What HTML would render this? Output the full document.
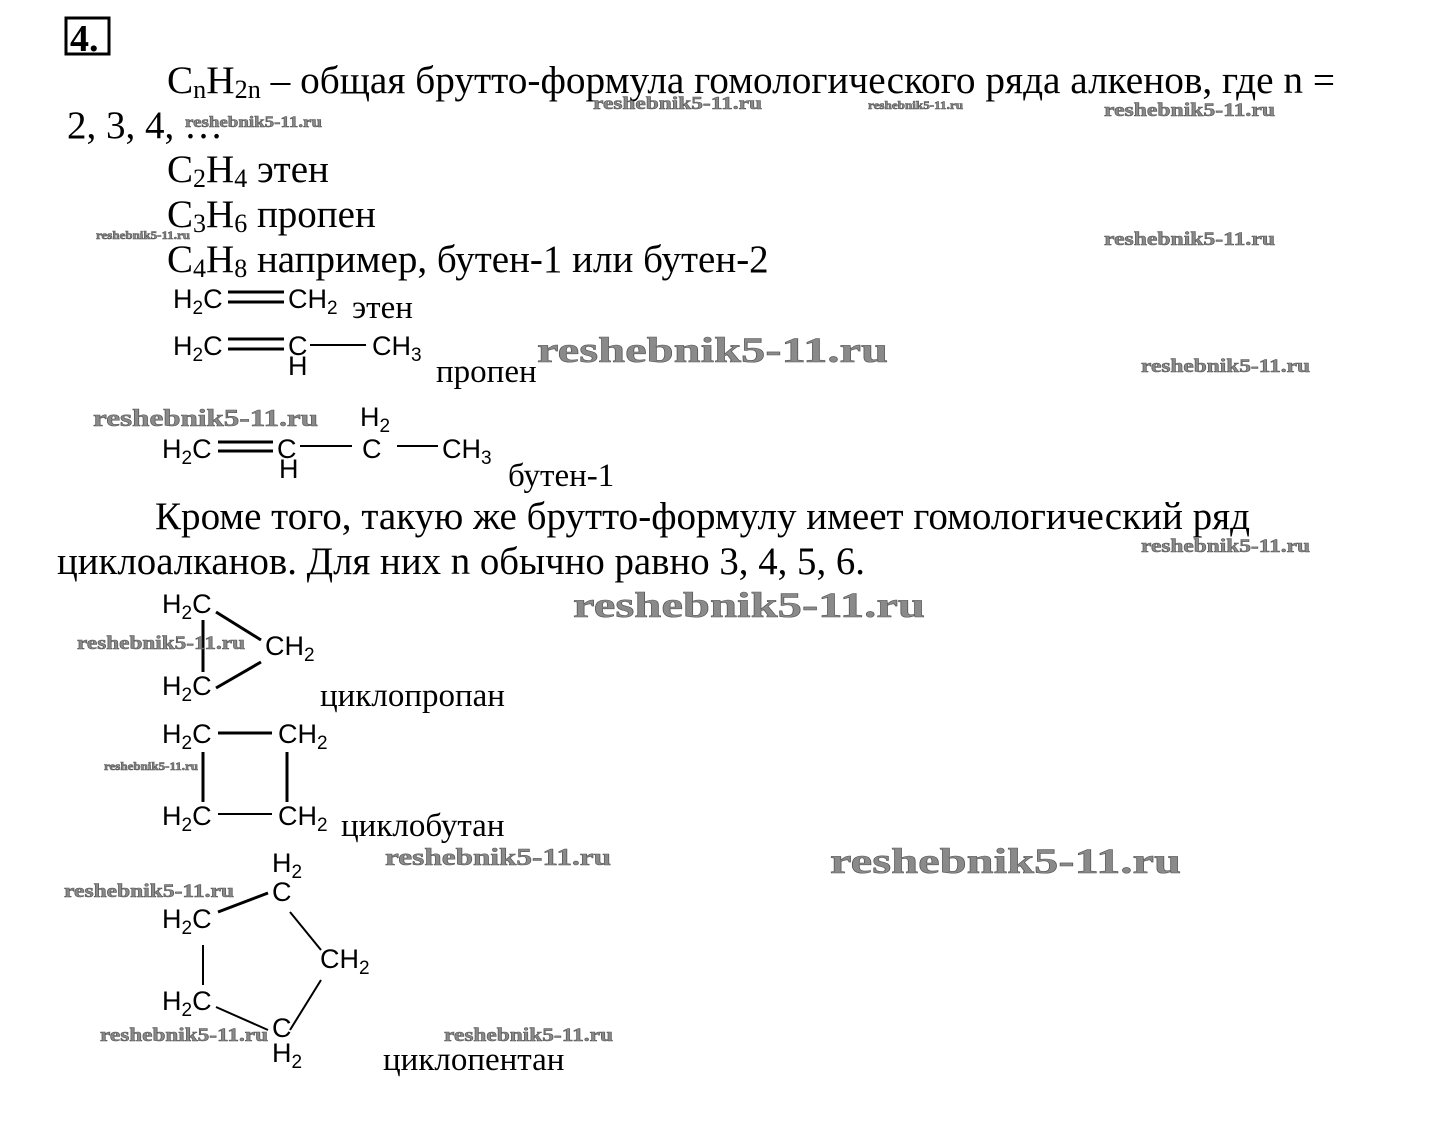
<!DOCTYPE html>
<html><head><meta charset="utf-8"><style>
html,body{margin:0;padding:0;background:#fff;}
svg{display:block}
.s{font-family:"Liberation Serif",serif;font-size:39px;fill:#000}
.l{font-family:"Liberation Serif",serif;font-size:33px;fill:#000}
.c{font-family:"Liberation Sans",sans-serif;font-size:27px;fill:#000}
.w{font-family:"Liberation Serif",serif;font-weight:bold;fill:#8a8a8a;stroke:#555;stroke-width:0.6}
line{stroke:#000;stroke-width:3}
</style></head><body>
<svg width="1437" height="1134" viewBox="0 0 1437 1134" xmlns="http://www.w3.org/2000/svg">
<rect x="66" y="18" width="43" height="36" fill="none" stroke="#000" stroke-width="3"/>
<text x="70" y="51" font-family="Liberation Serif,serif" font-weight="bold" font-size="38">4.</text>

<text class="s" x="167" y="93" textLength="1168" lengthAdjust="spacingAndGlyphs">C<tspan font-size="26" dy="5">n</tspan><tspan dy="-5">H</tspan><tspan font-size="26" dy="5">2n</tspan><tspan dy="-5"> – общая брутто-формула гомологического ряда алкенов, где n =</tspan></text>
<text class="s" x="67" y="138">2, 3, 4, …</text>
<text class="s" x="167" y="182">C<tspan font-size="26" dy="5">2</tspan><tspan dy="-5">H</tspan><tspan font-size="26" dy="5">4</tspan><tspan dy="-5"> этен</tspan></text>
<text class="s" x="167" y="227">C<tspan font-size="26" dy="5">3</tspan><tspan dy="-5">H</tspan><tspan font-size="26" dy="5">6</tspan><tspan dy="-5"> пропен</tspan></text>
<text class="s" x="167" y="272">C<tspan font-size="26" dy="5">4</tspan><tspan dy="-5">H</tspan><tspan font-size="26" dy="5">8</tspan><tspan dy="-5"> например, бутен-1 или бутен-2</tspan></text>

<!-- ethene -->
<text class="c" x="173" y="308">H<tspan font-size="19" dy="6">2</tspan><tspan dy="-6">C</tspan></text>
<line x1="228" y1="292" x2="284" y2="292"/><line x1="228" y1="302" x2="284" y2="302"/>
<text class="c" x="288" y="308">CH<tspan font-size="19" dy="6">2</tspan></text>
<text class="l" x="352" y="318">этен</text>

<!-- propene -->
<text class="c" x="173" y="355">H<tspan font-size="19" dy="6">2</tspan><tspan dy="-6">C</tspan></text>
<line x1="228" y1="339" x2="284" y2="339"/><line x1="228" y1="349" x2="284" y2="349"/>
<text class="c" x="288" y="355">C</text>
<text class="c" x="288" y="375">H</text>
<line x1="310" y1="345" x2="366" y2="345" style="stroke-width:2"/>
<text class="c" x="372" y="355">CH<tspan font-size="19" dy="6">3</tspan></text>
<text class="l" x="436" y="382">пропен</text>

<!-- butene -->
<text class="c" x="162" y="458">H<tspan font-size="19" dy="6">2</tspan><tspan dy="-6">C</tspan></text>
<line x1="218" y1="442" x2="273" y2="442"/><line x1="218" y1="451" x2="273" y2="451"/>
<text class="c" x="277" y="458">C</text>
<text class="c" x="279" y="478">H</text>
<line x1="300" y1="446" x2="352" y2="446" style="stroke-width:2"/>
<text class="c" x="362" y="458">C</text>
<text class="c" x="360" y="426">H<tspan font-size="19" dy="6">2</tspan></text>
<line x1="397" y1="446" x2="438" y2="446" style="stroke-width:2"/>
<text class="c" x="442" y="458">CH<tspan font-size="19" dy="6">3</tspan></text>
<text class="l" x="508" y="486">бутен-1</text>

<text class="s" x="155" y="529" textLength="1095" lengthAdjust="spacingAndGlyphs">Кроме того, такую же брутто-формулу имеет гомологический ряд</text>
<text class="s" x="57" y="574" textLength="808" lengthAdjust="spacingAndGlyphs">циклоалканов. Для них n обычно равно 3, 4, 5, 6.</text>

<!-- cyclopropane -->
<text class="c" x="162" y="613">H<tspan font-size="19" dy="6">2</tspan><tspan dy="-6">C</tspan></text>
<text class="c" x="265" y="655">CH<tspan font-size="19" dy="6">2</tspan></text>
<text class="c" x="162" y="695">H<tspan font-size="19" dy="6">2</tspan><tspan dy="-6">C</tspan></text>
<line x1="203" y1="620" x2="203" y2="672"/>
<line x1="216" y1="612" x2="261" y2="640"/>
<line x1="261" y1="662" x2="216" y2="688"/>
<text class="l" x="320" y="706">циклопропан</text>

<!-- cyclobutane -->
<text class="c" x="162" y="743">H<tspan font-size="19" dy="6">2</tspan><tspan dy="-6">C</tspan></text>
<text class="c" x="278" y="743">CH<tspan font-size="19" dy="6">2</tspan></text>
<line x1="218" y1="733" x2="272" y2="733"/>
<line x1="203" y1="752" x2="203" y2="802"/>
<line x1="287" y1="752" x2="287" y2="802"/>
<text class="c" x="162" y="825">H<tspan font-size="19" dy="6">2</tspan><tspan dy="-6">C</tspan></text>
<text class="c" x="278" y="825">CH<tspan font-size="19" dy="6">2</tspan></text>
<line x1="218" y1="814" x2="272" y2="814" style="stroke-width:2"/>
<text class="l" x="341" y="836">циклобутан</text>

<!-- cyclopentane -->
<text class="c" x="272" y="872">H<tspan font-size="19" dy="6">2</tspan></text>
<text class="c" x="272" y="901">C</text>
<text class="c" x="162" y="928">H<tspan font-size="19" dy="6">2</tspan><tspan dy="-6">C</tspan></text>
<line x1="218" y1="912" x2="268" y2="893"/>
<line x1="290" y1="912" x2="321" y2="950" style="stroke-width:2"/>
<text class="c" x="320" y="968">CH<tspan font-size="19" dy="6">2</tspan></text>
<line x1="321" y1="980" x2="290" y2="1030" style="stroke-width:2"/>
<line x1="203" y1="945" x2="203" y2="985" style="stroke-width:2"/>
<text class="c" x="162" y="1010">H<tspan font-size="19" dy="6">2</tspan><tspan dy="-6">C</tspan></text>
<line x1="216" y1="1007" x2="268" y2="1030" style="stroke-width:2"/>
<text class="c" x="272" y="1037">C</text>
<text class="c" x="272" y="1062">H<tspan font-size="19" dy="6">2</tspan></text>
<text class="l" x="383" y="1070">циклопентан</text>

<!-- watermarks -->
<text class="w" x="537" y="362" font-size="36" textLength="351" lengthAdjust="spacingAndGlyphs">reshebnik5-11.ru</text>
<text class="w" x="573" y="617" font-size="36" textLength="352" lengthAdjust="spacingAndGlyphs">reshebnik5-11.ru</text>
<text class="w" x="830" y="873" font-size="36" textLength="351" lengthAdjust="spacingAndGlyphs">reshebnik5-11.ru</text>
<text class="w" x="593" y="109" font-size="18" textLength="169" lengthAdjust="spacingAndGlyphs">reshebnik5-11.ru</text>
<text class="w" x="185" y="127" font-size="16" textLength="137" lengthAdjust="spacingAndGlyphs">reshebnik5-11.ru</text>
<text class="w" x="868" y="109" font-size="12" textLength="95" lengthAdjust="spacingAndGlyphs">reshebnik5-11.ru</text>
<text class="w" x="1104" y="116" font-size="19" textLength="171" lengthAdjust="spacingAndGlyphs">reshebnik5-11.ru</text>
<text class="w" x="96" y="239" font-size="12" textLength="94" lengthAdjust="spacingAndGlyphs">reshebnik5-11.ru</text>
<text class="w" x="1104" y="245" font-size="19" textLength="171" lengthAdjust="spacingAndGlyphs">reshebnik5-11.ru</text>
<text class="w" x="1141" y="372" font-size="19" textLength="169" lengthAdjust="spacingAndGlyphs">reshebnik5-11.ru</text>
<text class="w" x="93" y="426" font-size="24" textLength="225" lengthAdjust="spacingAndGlyphs">reshebnik5-11.ru</text>
<text class="w" x="1141" y="552" font-size="19" textLength="169" lengthAdjust="spacingAndGlyphs">reshebnik5-11.ru</text>
<text class="w" x="77" y="649" font-size="19" textLength="168" lengthAdjust="spacingAndGlyphs">reshebnik5-11.ru</text>
<text class="w" x="104" y="770" font-size="12" textLength="94" lengthAdjust="spacingAndGlyphs">reshebnik5-11.ru</text>
<text class="w" x="385" y="865" font-size="24" textLength="226" lengthAdjust="spacingAndGlyphs">reshebnik5-11.ru</text>
<text class="w" x="64" y="897" font-size="19" textLength="170" lengthAdjust="spacingAndGlyphs">reshebnik5-11.ru</text>
<text class="w" x="100" y="1041" font-size="19" textLength="168" lengthAdjust="spacingAndGlyphs">reshebnik5-11.ru</text>
<text class="w" x="444" y="1041" font-size="19" textLength="169" lengthAdjust="spacingAndGlyphs">reshebnik5-11.ru</text>
</svg>
</body></html>
